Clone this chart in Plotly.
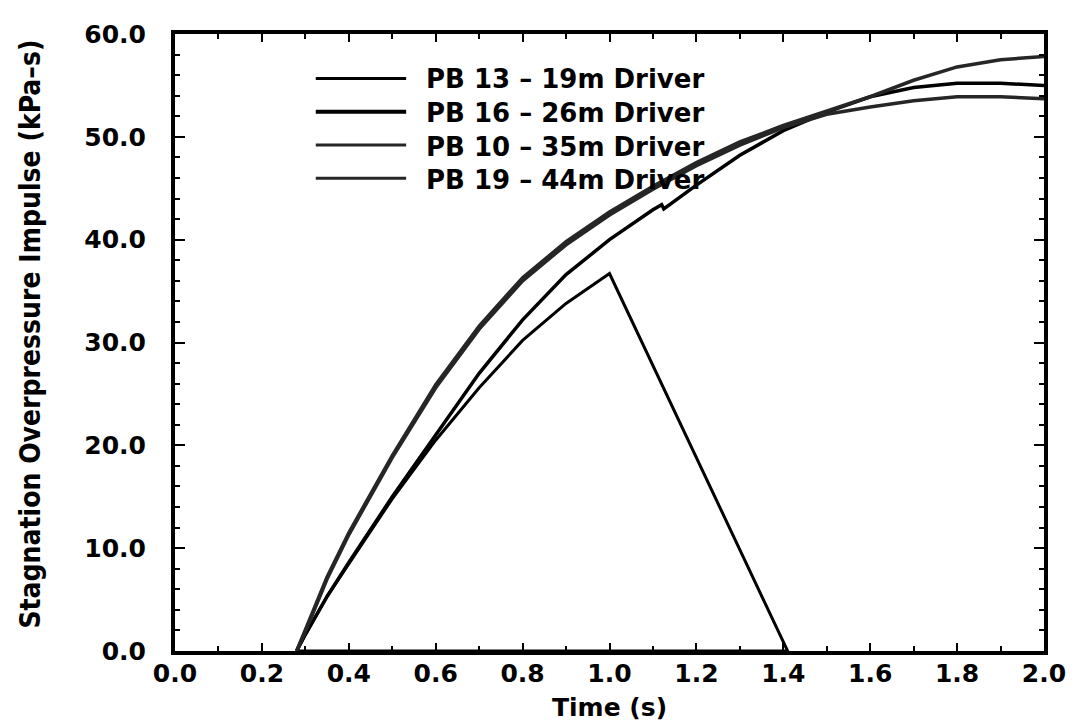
import plotly.graph_objects as go

# impulse histories (time in s, impulse in kPa-s)
t_pb13 = [0.28, 0.30, 0.35, 0.40, 0.50, 0.60, 0.70, 0.80, 0.90, 1.00, 1.41, 0.28]
i_pb13 = [0.0, 1.6, 5.3, 8.5, 14.8, 20.5, 25.6, 30.2, 33.8, 36.7, 0.0, 0.0]

t_pb16 = [0.28, 0.30, 0.35, 0.40, 0.50, 0.60, 0.70, 0.80, 0.90, 1.00, 1.05, 1.10,
          1.12, 1.125, 1.20, 1.30, 1.40, 1.50, 1.60, 1.70, 1.80, 1.90, 2.00]
i_pb16 = [0.0, 1.6, 5.3, 8.6, 15.0, 21.0, 27.0, 32.2, 36.6, 40.0, 41.5, 42.9,
          43.4, 43.0, 45.3, 48.2, 50.6, 52.4, 53.9, 54.8, 55.2, 55.2, 55.0]

t_long = [0.28, 0.30, 0.35, 0.40, 0.50, 0.60, 0.70, 0.80, 0.90, 1.00, 1.10, 1.20,
          1.30, 1.40, 1.50, 1.60, 1.70, 1.80, 1.90, 2.00]
i_pb10 = [0.0, 1.9, 7.0, 11.3, 18.8, 25.6, 31.3, 36.0, 39.5, 42.4, 44.9, 47.2,
          49.2, 50.9, 52.2, 52.9, 53.5, 53.9, 53.9, 53.7]
i_pb19 = [0.0, 2.0, 7.2, 11.5, 19.0, 25.9, 31.6, 36.3, 39.8, 42.7, 45.2, 47.5,
          49.5, 51.1, 52.5, 53.9, 55.5, 56.8, 57.5, 57.8]

labels = ["PB 13 \u2013 19m Driver", "PB 16 \u2013 26m Driver",
          "PB 10 \u2013 35m Driver", "PB 19 \u2013 44m Driver"]

BOLD = dict(family="DejaVu Sans", color="black", weight="bold")
TEXTURED = "#262626"
PLOT_H = 626  # px height of the plotting area (721 - 17 - 78)
PLOT_W = 869

series = [
    (t_pb13, i_pb13, labels[0], "black", 3.0),
    (t_pb16, i_pb16, labels[1], "black", 3.5),
    (t_long, i_pb10, labels[2], TEXTURED, 3.5),
    (t_long, i_pb19, labels[3], TEXTURED, 3.5),
]

fig = go.Figure()
for t, imp, name, color, width in series:
    fig.add_trace(go.Scatter(x=t, y=imp, mode="lines", name=name, showlegend=False,
                             line=dict(color=color, width=width)))

# hand-drawn key like the original: long line samples + one block of bold text
KEY_SIZE = 26
key_top = 0.955
line_h = KEY_SIZE * 1.3 / PLOT_H
for k, (t, imp, name, color, width) in enumerate(series):
    yk = key_top - (k + 0.5) * line_h
    fig.add_shape(type="line", xref="paper", yref="paper", x0=0.162, x1=0.266,
                  y0=yk, y1=yk, line=dict(color=color, width=4 if k == 1 else 3))
fig.add_annotation(x=0.287, y=key_top, xref="paper", yref="paper", xanchor="left",
                   yanchor="top", align="left", showarrow=False, text="<br>".join(labels),
                   font=dict(size=KEY_SIZE, **BOLD))

# axis titles placed as annotations so they sit where the scan has them
fig.add_annotation(x=0.5, y=-57 / PLOT_H, xref="paper", yref="paper", showarrow=False,
                   xanchor="center", yanchor="middle", text="Time (s)",
                   font=dict(size=25, **BOLD))
fig.add_annotation(x=-144 / PLOT_W, y=321 / PLOT_H, xref="paper", yref="paper",
                   showarrow=False, xanchor="center", yanchor="middle", textangle=-90,
                   text="Stagnation Overpressure Impulse (kPa\u2013s)",
                   font=dict(family="Liberation Sans Narrow, DejaVu Sans Condensed, Liberation Sans",
                             size=28, color="black", weight="bold"))

axis_common = dict(showline=True, linewidth=4, linecolor="black", mirror="allticks",
                   ticks="inside", tickcolor="black", tickwidth=2, showgrid=False,
                   zeroline=False, tickfont=dict(size=25, **BOLD), tickformat=".1f")

fig.update_xaxes(range=[0, 2.0], dtick=0.2, tick0=0, ticklen=8, ticklabelstandoff=-3,
                 minor=dict(dtick=0.1, ticklen=5, ticks="inside", tickcolor="black", tickwidth=2),
                 **axis_common)
fig.update_yaxes(range=[0, 60], dtick=10, tick0=0, ticklen=10, ticklabelstandoff=20,
                 minor=dict(dtick=2, ticklen=5, ticks="inside", tickcolor="black", tickwidth=2),
                 **axis_common)

fig.update_layout(
    width=1076, height=721,
    margin=dict(l=167, r=40, t=17, b=78),
    paper_bgcolor="white", plot_bgcolor="white",
)

fig.write_html("out.html")
